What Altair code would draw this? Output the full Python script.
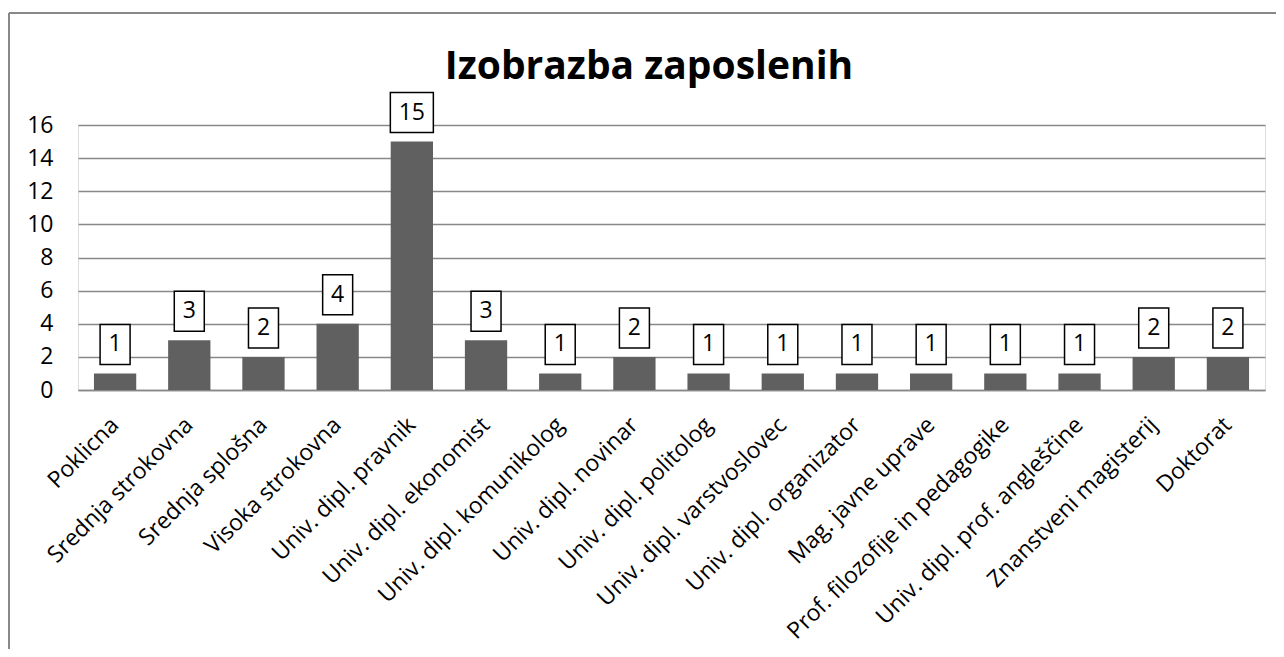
import altair as alt
import pandas as pd

categories = ["Poklicna", "Srednja strokovna", "Srednja splošna", "Visoka strokovna",
              "Univ. dipl. pravnik", "Univ. dipl. ekonomist", "Univ. dipl. komunikolog",
              "Univ. dipl. novinar", "Univ. dipl. politolog", "Univ. dipl. varstvoslovec",
              "Univ. dipl. organizator", "Mag. javne uprave", "Prof. filozofije in pedagogike",
              "Univ. dipl. prof. angleščine", "Znanstveni magisterij", "Doktorat"]
values = [1, 3, 2, 4, 15, 3, 1, 2, 1, 1, 1, 1, 1, 1, 2, 2]
y_ticks = [0, 2, 4, 6, 8, 10, 12, 14, 16]
title_text = "Izobrazba zaposlenih"

df = pd.DataFrame({"cat": categories, "val": values})
df["lbl"] = df["val"].astype(str)
df["box"] = df["lbl"].apply(lambda s: "M-0.75,-1H0.75V1H-0.75Z" if len(s) == 1 else "M-1.075,-1H1.075V1H-1.075Z")

FONT = "Open Sans"
W, H = 1187, 265

x_enc = alt.X("cat:N", sort=categories, title=None,
              scale=alt.Scale(paddingInner=0.43, paddingOuter=0.215),
              axis=alt.Axis(labelAngle=-45, labelAlign="right", labelBaseline="middle",
                            labelFontSize=23, labelFont=FONT, labelColor="black",
                            ticks=False, domainColor="#888888", domainWidth=1.5,
                            labelPadding=31, labelLimit=400))
y_enc = alt.Y("val:Q", title=None,
              scale=alt.Scale(domain=[0, 16], nice=False),
              axis=alt.Axis(values=y_ticks, labelFontSize=23, labelFont=FONT, labelColor="black",
                            ticks=False, domain=False, gridColor="#888888", gridWidth=1.5,
                            labelPadding=25))

base = alt.Chart(df).encode(x=x_enc, y=y_enc)

bars = base.mark_bar(color="#606060")

boxes = base.mark_point(filled=True, fill="white", stroke="black", strokeWidth=1.5,
                        opacity=1, size=1600, yOffset=-29).encode(
    shape=alt.Shape("box:N", scale=None, legend=None))

texts = base.mark_text(font=FONT, fontSize=23, color="black", baseline="middle",
                       dy=-29).encode(text="lbl:N")

frame_v = alt.Chart(df).mark_rule(color="#888888", strokeWidth=2).encode(
    x=alt.value(-69), y=alt.value(-112), y2=alt.value(700))
frame_h = alt.Chart(df).mark_rule(color="#888888", strokeWidth=2).encode(
    x=alt.value(-69), x2=alt.value(1400), y=alt.value(-112))

title = alt.Chart(pd.DataFrame({"t": [title_text]})).mark_text(
    font=FONT, fontSize=39, fontWeight="bold", color="black",
    align="center", baseline="alphabetic").encode(
    text="t:N", x=alt.value(571), y=alt.value(-46))

chart = alt.layer(bars, boxes, texts, frame_v, frame_h, title).properties(
    width=W, height=H,
    autosize=alt.AutoSizeParams(type="none"),
    padding={"left": 70, "top": 117, "right": 11, "bottom": 259},
).configure_view(stroke=None).configure(background="white")

chart.save("out.html", embed_options={"renderer": "svg", "actions": False})
